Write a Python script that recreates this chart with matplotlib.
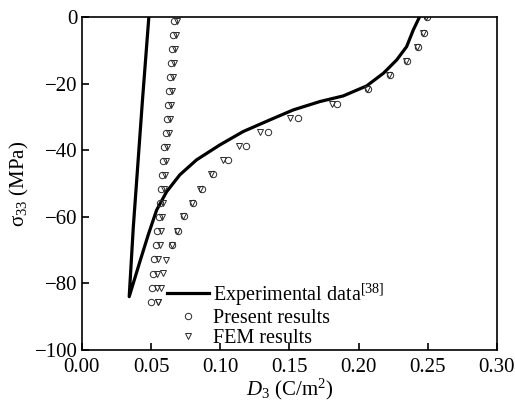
import matplotlib
matplotlib.use("Agg")
import matplotlib.pyplot as plt

plt.rcParams['font.family'] = ['Liberation Serif', 'DejaVu Serif']
plt.rcParams['mathtext.fontset'] = 'custom'
plt.rcParams['mathtext.rm'] = 'Liberation Serif'
plt.rcParams['mathtext.it'] = 'Liberation Serif:italic'

# Experimental curve (left branch down to the vertex, then back up the right branch)
exp_d = [0.0484, 0.0438, 0.0371, 0.0342, 0.0419, 0.0479, 0.0540, 0.0612, 0.0708,
         0.0829, 0.0998, 0.1166, 0.1359, 0.1528, 0.1720, 0.1889, 0.2058, 0.2179,
         0.2275, 0.2347, 0.2395, 0.2440]
exp_s = [0.0, -24.9, -63.5, -84.0, -73.5, -65.5, -58.0, -52.5, -47.4,
         -42.9, -38.4, -34.4, -30.9, -27.9, -25.4, -23.7, -20.7, -16.9,
         -12.9, -8.9, -3.9, 0.0]

# Present results / FEM results, left branch
left_s = [-1.2, -5.4, -9.6, -13.8, -18.0, -22.2, -26.5, -30.7, -34.9, -39.1, -43.3,
          -47.5, -51.8, -56.0, -60.2, -64.4, -68.6, -72.8, -77.1, -81.3, -85.5]
left_present = [0.0667, 0.0657, 0.0652, 0.0643, 0.0636, 0.0631, 0.0624, 0.0613, 0.0605,
                0.0596, 0.0588, 0.0580, 0.0571, 0.0566, 0.0556, 0.0545, 0.0536, 0.0523,
                0.0512, 0.0505, 0.0503]
left_fem = [0.0689, 0.0679, 0.0674, 0.0665, 0.0658, 0.0653, 0.0646, 0.0635, 0.0627,
            0.0618, 0.0610, 0.0602, 0.0593, 0.0588, 0.0581, 0.0569, 0.0562, 0.0552,
            0.0544, 0.0540, 0.0548]

# right branch
right_s = [0.0, -4.7, -8.9, -13.2, -17.4, -21.7, -26.0, -30.3, -34.5, -38.8, -43.0,
           -47.3, -51.6, -55.8, -59.8, -64.2, -68.5, -73.0, -76.9, -81.4, -85.5]
right_fem = [0.2490, 0.2467, 0.2424, 0.2342, 0.2221, 0.2058, 0.1805, 0.1504, 0.1287,
             0.1137, 0.1021, 0.0930, 0.0853, 0.0793, 0.0733, 0.0690, 0.0648, 0.0610,
             0.0583, 0.0570, 0.0552]
right_present = [0.2495, 0.2475, 0.2432, 0.2350, 0.2230, 0.2065, 0.1841, 0.1564, 0.1347,
                 0.1186, 0.1058, 0.0949, 0.0865, 0.0800, 0.0738, 0.0695, 0.0652]

fig = plt.figure(figsize=(5.15, 4.05), dpi=100)
ax = fig.add_axes([0.159, 0.136, 0.806, 0.822])

mk = dict(linestyle='none', markerfacecolor='none',
          markeredgecolor='#2a2a2a', markeredgewidth=0.7)

ax.plot(exp_d, exp_s, color='black', linewidth=2.3, solid_joinstyle='round',
        label='Experimental data$^{[38]}$')
ax.plot(left_present + right_present, left_s + right_s[:len(right_present)],
        marker='o', markersize=4.6, label='Present results', **mk)
ax.plot(left_fem + right_fem, left_s + right_s, marker='v', markersize=5.0,
        label='FEM results', **mk)

ax.set_xlim(0, 0.30)
ax.set_ylim(-100, 0)
ax.set_xticks([0.00, 0.05, 0.10, 0.15, 0.20, 0.25, 0.30])
ax.set_xticklabels(['0.00', '0.05', '0.10', '0.15', '0.20', '0.25', '0.30'])
ax.set_yticks([0, -20, -40, -60, -80, -100])
ax.tick_params(direction='in', length=5, width=1.2, labelsize=15)
ax.tick_params(axis='x', pad=6)
ax.tick_params(axis='y', pad=3)
for sp in ax.spines.values():
    sp.set_linewidth(1.2)

ax.set_xlabel('$D_3$ (C/m$^2$)', fontsize=15, labelpad=0)
ax.set_ylabel('σ$_{33}$ (MPa)', fontsize=15, labelpad=3)

ax.legend(loc='lower left', bbox_to_anchor=(0.2, 0.0), bbox_transform=ax.transAxes,
          frameon=False, fontsize=14.5, handlelength=2.1, handletextpad=0.2,
          labelspacing=0.05, borderpad=0, borderaxespad=0.1, numpoints=1)

fig.savefig('out.png', dpi=100)
